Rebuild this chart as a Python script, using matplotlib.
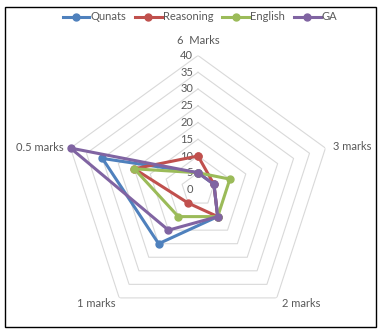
import numpy as np
import matplotlib
matplotlib.use("Agg")
import matplotlib.pyplot as plt
from matplotlib.patches import Rectangle

# Question categories, clockwise from the top
categories = ["6  Marks", "3 marks", "2 marks", "1 marks", "0.5 marks"]

# Number of questions per section
qunats = [5, 5, 10, 20, 30]
reasoning = [10, 5, 10, 5, 20]
english = [5, 10, 10, 10, 20]
ga = [5, 5, 10, 15, 40]

series_names = ["Qunats", "Reasoning", "English", "GA"]
series_values = [qunats, reasoning, english, ga]
series_colors = ["#4F81BD", "#C0504D", "#9BBB59", "#8064A2"]

ring_values = [0, 5, 10, 15, 20, 25, 30, 35, 40]

text_color = "#595959"
grid_color = "#D9D9D9"
plt.rcParams["font.family"] = ["Lato", "DejaVu Sans"]
FS = 8

W, H, DPI = 383, 336, 100
fig = plt.figure(figsize=(W / DPI, H / DPI), dpi=DPI)

# chart-area border
fig.patches.append(Rectangle((5 / W, 1 - 327 / H), 371 / W, 320 / H,
                             transform=fig.transFigure, fill=False,
                             edgecolor="black", linewidth=1.0))

cx, cy, R = 198, 189.5, 134
ax = fig.add_axes([(cx - R) / W, (H - cy - R) / H, 2 * R / W, 2 * R / H],
                  projection="polar")
ax.set_theta_offset(np.pi / 2)
ax.set_theta_direction(-1)
ax.set_ylim(0, 40)
ax.grid(False)
ax.spines["polar"].set_visible(False)
ax.set_xticks([])
ax.set_yticks([])
ax.patch.set_alpha(0)

n = len(categories)
theta = np.arange(n) * 2 * np.pi / n
theta_closed = np.append(theta, theta[0])

# pentagonal gridlines
for rv in ring_values[1:]:
    ax.plot(theta_closed, [rv] * (n + 1), color=grid_color, linewidth=0.8,
            zorder=1)

# value labels along the top axis
for rv in ring_values:
    ax.annotate(str(rv), xy=(0, rv), xytext=(-5, 0), textcoords="offset pixels",
                ha="right", va="center", fontsize=FS, color=text_color)

# category labels around the outside
label_style = [
    dict(xytext=(0, 15), ha="center", va="center"),
    dict(xytext=(8, 2), ha="left", va="center"),
    dict(xytext=(5, -6), ha="left", va="center"),
    dict(xytext=(-4, -6), ha="right", va="center"),
    dict(xytext=(-7, 1), ha="right", va="center"),
]
for t, lab, st in zip(theta, categories, label_style):
    ax.annotate(lab, xy=(t, 40), textcoords="offset pixels", fontsize=FS,
                color=text_color, **st)

handles = []
for name, vals, col in zip(series_names, series_values, series_colors):
    h, = ax.plot(theta_closed, vals + vals[:1], color=col, linewidth=2.2,
                 marker="o", markersize=5, label=name, zorder=3,
                 clip_on=False)
    handles.append(h)

fig.legend(handles=handles, labels=series_names, loc="center",
           bbox_to_anchor=(200 / W, 1 - 17 / H), ncol=4, frameon=False,
           fontsize=FS, handlelength=2.4, handletextpad=0.1,
           columnspacing=0.8, labelcolor=text_color)

fig.savefig("out.png", dpi=DPI)
